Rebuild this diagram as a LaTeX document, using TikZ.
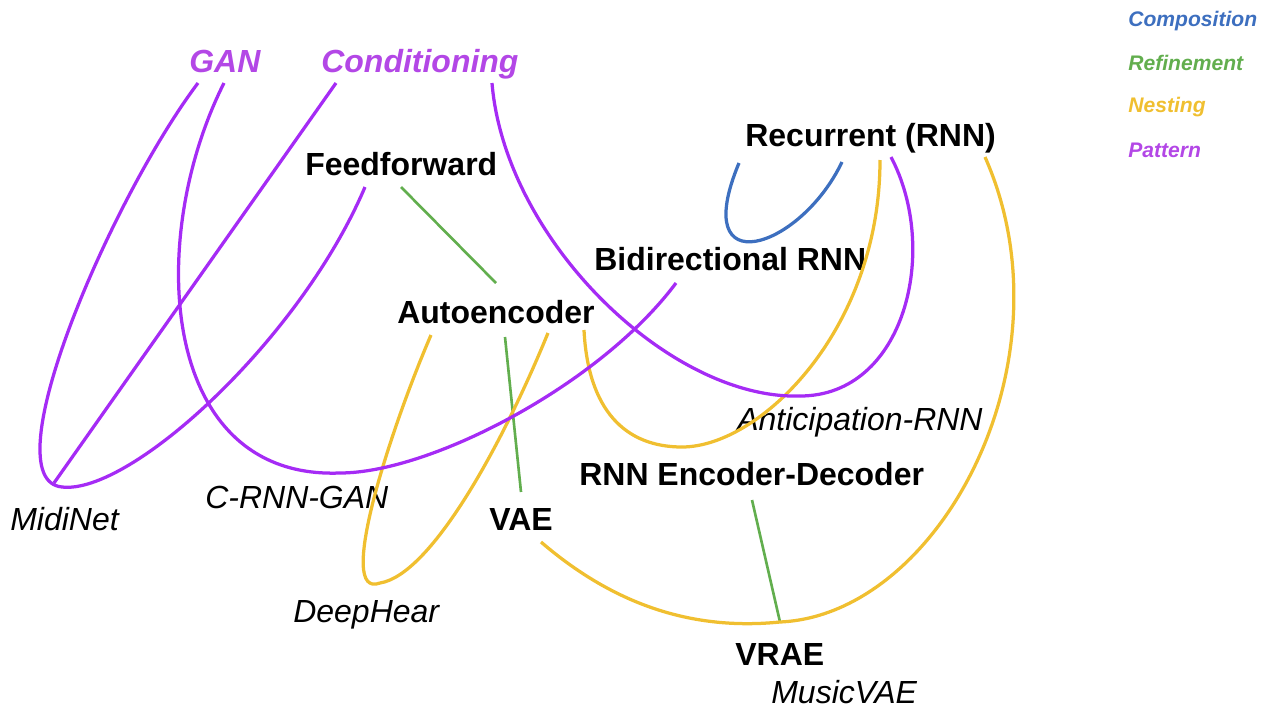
\documentclass[tikz,border=0pt]{standalone}
\usepackage{fontspec}
\setmainfont{Liberation Sans}
\definecolor{pattxt}{HTML}{B347E6}
\definecolor{patc}{HTML}{A52BF5}
\definecolor{compc}{HTML}{3D6FBF}
\definecolor{refc}{HTML}{62AE4E}
\definecolor{nestc}{HTML}{F0BF30}
\tikzset{
  mainlbl/.style={anchor=base west, inner sep=0pt, font=\fontsize{18.2}{20}\selectfont\bfseries},
  instlbl/.style={anchor=base west, inner sep=0pt, font=\fontsize{18.2}{20}\selectfont\itshape},
  patlbl/.style={anchor=base west, inner sep=0pt, text=pattxt, font=\fontsize{18.2}{20}\selectfont\bfseries\itshape},
  leglbl/.style={anchor=base west, inner sep=0pt, font=\fontsize{12}{14}\selectfont\bfseries\itshape},
  comp/.style={draw=compc, line width=1.85pt},
  refi/.style={draw=refc, line width=1.5pt},
  nest/.style={draw=nestc, line width=1.85pt},
  patt/.style={draw=patc, line width=1.85pt},
}
\begin{document}
\begin{tikzpicture}[x=0.02cm, y=-0.02cm]
\useasboundingbox (0,0) rectangle (1275,710);

% labels
\node[patlbl] (gan) at (189,72) {GAN};
\node[patlbl] (cond) at (321,72) {Conditioning};
\node[mainlbl] (ff) at (305,175) {Feedforward};
\node[mainlbl] (rnn) at (745,146) {Recurrent (RNN)};
\node[mainlbl] (birnn) at (594,270) {Bidirectional RNN};
\node[mainlbl] (ae) at (397,323) {Autoencoder};
\node[instlbl] (antic) at (737,430) {Anticipation-RNN};
\node[mainlbl] (encdec) at (579,485) {RNN Encoder-Decoder};
\node[instlbl] (crnngan) at (205,508) {C-RNN-GAN};
\node[instlbl] (midinet) at (10,530) {MidiNet};
\node[mainlbl] (vae) at (489,530) {VAE};
\node[instlbl] (deephear) at (293,622) {DeepHear};
\node[mainlbl] (vrae) at (735,665) {VRAE};
\node[instlbl] (musicvae) at (771,703) {MusicVAE};

% legend
\node[leglbl, text=compc] (lcomp) at (1128,27) {Composition};
\node[leglbl, text=refc] (lref) at (1128,71) {Refinement};
\node[leglbl, text=nestc] (lnest) at (1128,112) {Nesting};
\node[leglbl, text=pattxt] (lpat) at (1128,157) {Pattern};

% connector end points
\coordinate (gan1) at (198,83);
\coordinate (gan2) at (224,83);
\coordinate (cond1) at (336,83);
\coordinate (cond2) at (492,83);
\coordinate (ffp) at (365,187);
\coordinate (ffr) at (401,187);
\coordinate (aeg) at (496,283);
\coordinate (aeb) at (505,337);
\coordinate (ael) at (431,335);
\coordinate (aer) at (548,333);
\coordinate (aerr) at (584,330);
\coordinate (rnnb1) at (739,163);
\coordinate (rnnb2) at (842,162);
\coordinate (rnny1) at (880,160);
\coordinate (rnnp) at (891,157);
\coordinate (rnny2) at (985,157);
\coordinate (birnnp) at (676,283);
\coordinate (mid) at (62,487);
\coordinate (midc) at (54,483);
\coordinate (crg) at (340,473);
\coordinate (ant) at (800,396);
\coordinate (dh) at (380,583);
\coordinate (ed) at (682,447);
\coordinate (edg) at (752,500);
\coordinate (vaeg) at (521,492);
\coordinate (vaey) at (541,542);
\coordinate (vr) at (780,622);

% composition
\draw[comp] (rnnb1) .. controls (688,285) and (800,250) .. (rnnb2);

% refinement
\draw[refi] (ffr) -- (aeg);
\draw[refi] (aeb) -- (vaeg);
\draw[refi] (edg) -- (vr);

% nesting
\draw[nest] (ael) .. controls (390,430) and (335,600) .. (dh);
\draw[nest] (dh) .. controls (430,575) and (500,450) .. (aer);
\draw[nest] (aerr) .. controls (588,410) and (625,447) .. (ed);
\draw[nest] (ed) .. controls (760,447) and (880,330) .. (rnny1);
\draw[nest] (vaey) .. controls (620,610) and (700,630) .. (vr);
\draw[nest] (vr) .. controls (940,615) and (1075,360) .. (rnny2);

% pattern
\draw[patt] (gan1) .. controls (110,200) and (-10,480) .. (mid);
\draw[patt] (mid) .. controls (130,495) and (300,340) .. (ffp);
\draw[patt] (cond1) -- (midc);
\draw[patt] (gan2) .. controls (145,240) and (160,480) .. (crg);
\draw[patt] (crg) .. controls (430,473) and (600,385) .. (birnnp);
\draw[patt] (cond2) .. controls (505,240) and (670,400) .. (ant);
\draw[patt] (ant) .. controls (905,396) and (940,250) .. (rnnp);
\end{tikzpicture}
\end{document}
